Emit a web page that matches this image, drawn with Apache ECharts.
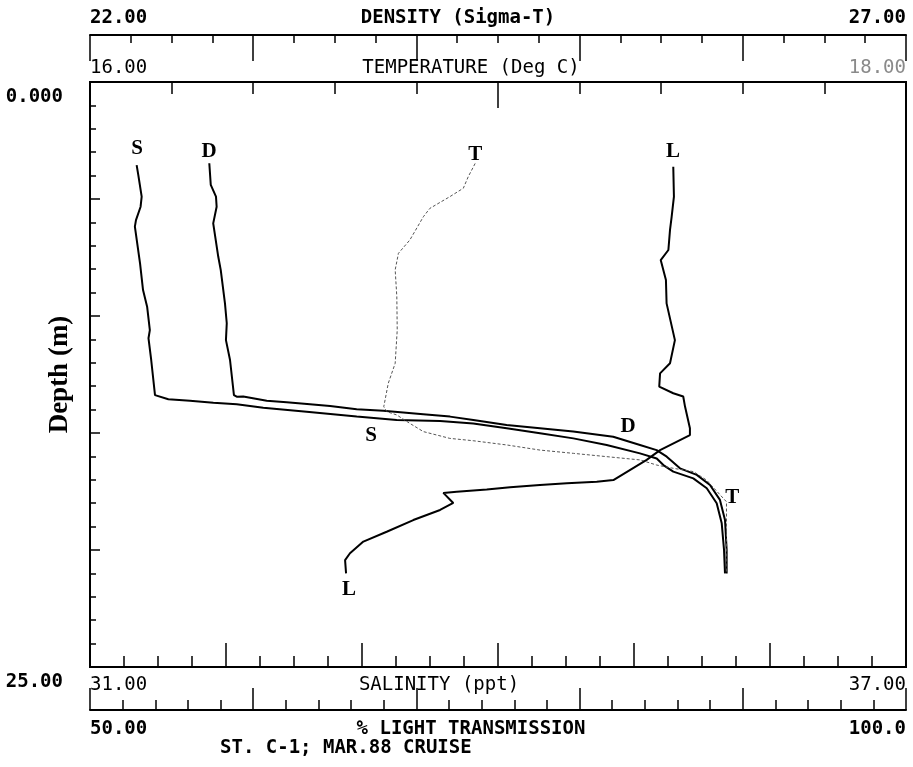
<!DOCTYPE html>
<html>
<head>
<meta charset="utf-8">
<script src="https://cdn.jsdelivr.net/npm/echarts@6/dist/echarts.min.js"></script>
<style>
html, body { margin: 0; padding: 0; background: #fff; }
#chart { width: 913px; height: 767px; }
</style>
</head>
<body>
<div id="chart"></div>
<script>
// salinity profile (ppt)
var salinityDepth = [3.55, 3.97, 4.90, 5.33, 5.90, 6.18, 7.75, 8.89, 9.60, 10.60, 10.95, 11.88, 13.38,
    13.45, 13.56, 13.62, 13.71, 13.77, 13.92, 14.09, 14.30, 14.44, 14.49, 14.59, 14.80, 15.01, 15.23,
    15.51, 15.87, 16.09, 16.37, 16.65, 16.94, 17.36, 18.00, 18.86, 20.00, 21.00];
var salinityValue = [31.343, 31.355, 31.380, 31.372, 31.338, 31.330, 31.368, 31.390, 31.420, 31.440, 31.430, 31.450, 31.478,
    31.478, 31.576, 31.735, 31.907, 32.079, 32.274, 32.593, 32.961, 33.255, 33.574, 33.818, 34.064, 34.309, 34.554,
    34.799, 35.044, 35.167, 35.216, 35.289, 35.436, 35.535, 35.608, 35.645, 35.662, 35.669];

// density profile (sigma-t)
var densityDepth = [3.47, 4.40, 4.90, 5.33, 6.04, 7.47, 8.03, 9.46, 10.31, 11.03, 11.88, 13.38,
    13.45, 13.44, 13.62, 13.69, 13.77, 13.85, 13.99, 14.05, 14.20, 14.30, 14.44, 14.66, 14.80, 14.94,
    15.16, 15.51, 15.73, 16.01, 16.51, 16.79, 17.22, 17.86, 18.72, 20.00, 21.00];
var densityValue = [22.731, 22.740, 22.772, 22.776, 22.755, 22.786, 22.801, 22.827, 22.838, 22.833, 22.858, 22.882,
    22.899, 22.939, 23.083, 23.205, 23.348, 23.471, 23.634, 23.797, 24.042, 24.206, 24.349, 24.553, 24.757, 24.961,
    25.206, 25.370, 25.472, 25.534, 25.615, 25.718, 25.799, 25.860, 25.891, 25.901, 25.901];

// temperature profile (deg C)
var temperatureDepth = [3.48, 4.05, 4.54, 4.90, 5.40, 5.76, 6.75, 7.32, 8.03, 9.17, 10.60, 12.02, 12.88, 13.88,
    14.09, 14.23, 14.59, 14.94, 15.23, 15.33, 15.51, 15.73, 15.87, 16.01, 16.15, 16.37, 16.51, 16.65,
    17.01, 17.94, 19.29, 20.71, 20.98];
var temperatureValue = [16.944, 16.927, 16.915, 16.882, 16.833, 16.817, 16.784, 16.756, 16.748, 16.752, 16.753, 16.748, 16.731, 16.720,
    16.728, 16.752, 16.784, 16.817, 16.882, 16.939, 17.021, 17.103, 17.185, 17.266, 17.348, 17.389, 17.430, 17.479,
    17.511, 17.560, 17.560, 17.561, 17.560];

// light transmission profile (%)
var lightDepth = [3.62, 4.90, 5.76, 6.32, 7.18, 7.61, 8.46, 9.46, 11.03, 12.02, 12.45, 13.02, 13.30, 13.44, 13.87,
    14.80, 15.09, 15.73, 16.15, 17.01, 17.08, 17.15, 17.22, 17.32, 17.41, 17.51, 17.56, 17.99, 18.29,
    18.72, 19.22, 19.64, 20.14, 20.43, 21.00];
var lightValue = [85.74, 85.78, 85.64, 85.54, 85.44, 84.97, 85.29, 85.33, 85.84, 85.54, 84.93, 84.88, 85.74, 86.35, 86.46,
    86.76, 86.76, 84.93, 84.11, 82.07, 81.05, 79.22, 77.57, 75.74, 74.31, 72.47, 71.65, 72.26, 71.45,
    69.81, 68.18, 66.75, 65.93, 65.63, 65.69];

// curve letters: [value, depth] at top and bottom of each profile
var salinityMarks = [[31.346, 2.86], [33.066, 15.13]];
var densityMarks = [[22.729, 2.99], [25.297, 14.74]];
var temperatureMarks = [[16.944, 3.12], [17.574, 17.74]];
var lightMarks = [[85.72, 2.99], [65.87, 21.71]];

// end labels of each scale
var densityLabels = ["22.00", "27.00"];
var temperatureLabels = ["16.00", "18.00"];
var salinityLabels = ["31.00", "37.00"];
var lightLabels = ["50.00", "100.0"];
var depthLabels = ["0.000", "25.00"];

var MONO = "DejaVu Sans Mono";
var SERIF = "Liberation Serif";

var pairs = function (values, depths) {
    var out = [];
    for (var i = 0; i < values.length; i++) {
        out.push([values[i], depths[i]]);
    }
    return out;
};

var end_formatter = function (min, max, labels, grayMax) {
    return function (v) {
        if (Math.abs(v - min) < 1e-9) return labels[0];
        if (Math.abs(v - max) < 1e-9) return grayMax ? "{gray|" + labels[1] + "}" : labels[1];
        return "";
    };
};

var make_x_axis = function (o) {
    return {
        type: "value",
        position: o.position,
        offset: o.offset,
        min: o.min,
        max: o.max,
        interval: o.interval,
        name: o.name,
        nameLocation: "middle",
        nameGap: o.margin,
        nameMoveOverlap: false,
        nameTextStyle: {
            fontFamily: MONO,
            fontSize: 19,
            fontWeight: o.bold ? "bold" : "normal",
            color: "#000",
            padding: [0, o.shift, 0, 0]
        },
        axisLine: { show: true, onZero: false, lineStyle: { color: "#000", width: 2 } },
        axisTick: { show: true, inside: true, length: o.major, lineStyle: { color: "#000", width: 1.5 } },
        minorTick: { show: true, splitNumber: o.split, length: o.minor, lineStyle: { color: "#000", width: 1.5 } },
        splitLine: { show: false },
        minorSplitLine: { show: false },
        axisLabel: {
            show: true,
            margin: o.margin,
            fontFamily: MONO,
            fontSize: 19,
            fontWeight: o.bold ? "bold" : "normal",
            color: "#000",
            alignMinLabel: "left",
            alignMaxLabel: "right",
            formatter: end_formatter(o.min, o.max, o.labels, o.grayMax),
            rich: {
                gray: { color: "#8a8a8a", fontFamily: MONO, fontSize: 19 }
            }
        }
    };
};

var mark_points = function (marks) {
    return {
        symbol: "circle",
        symbolSize: 1,
        itemStyle: { color: "rgba(0,0,0,0)" },
        label: {
            show: true,
            position: "inside",
            color: "#000",
            fontFamily: SERIF,
            fontWeight: "bold",
            fontSize: 21
        },
        data: marks.map(function (m) {
            return { coord: m, value: 0 };
        })
    };
};

var make_series = function (name, letter, axisIndex, values, depths, marks, style) {
    var mp = mark_points(marks);
    mp.label.formatter = letter;
    return {
        name: name,
        type: "line",
        xAxisIndex: axisIndex,
        yAxisIndex: 0,
        showSymbol: false,
        symbol: "none",
        silent: true,
        lineStyle: style,
        data: pairs(values, depths),
        markPoint: mp
    };
};

var load = function () {
    var chart = echarts.init(document.getElementById("chart"));
    var option = {
        animation: false,
        backgroundColor: "#fff",
        title: {
            text: "ST. C-1; MAR.88 CRUISE",
            left: 220,
            top: 739,
            padding: 0,
            textStyle: { fontFamily: MONO, fontSize: 19, fontWeight: "bold", color: "#000" }
        },
        grid: {
            left: 90, right: 7, top: 82, bottom: 100,
            containLabel: false,
            outerBoundsMode: "none",
            show: true, borderColor: "#000", borderWidth: 2, backgroundColor: "transparent"
        },
        xAxis: [
            make_x_axis({ position: "top", offset: 47, min: 22, max: 27, interval: 1, split: 4,
                major: 26, minor: 8, margin: 7, shift: 80, bold: true,
                name: "DENSITY (Sigma-T)", labels: densityLabels }),
            make_x_axis({ position: "top", offset: 0, min: 16, max: 18, interval: 1, split: 5,
                major: 26, minor: 12, margin: 4, shift: 54, bold: false, grayMax: true,
                name: "TEMPERATURE (Deg C)", labels: temperatureLabels }),
            make_x_axis({ position: "bottom", offset: 0, min: 31, max: 37, interval: 1, split: 4,
                major: 24, minor: 11, margin: 9, shift: 118, bold: false,
                name: "SALINITY (ppt)", labels: salinityLabels }),
            make_x_axis({ position: "bottom", offset: 43, min: 50, max: 100, interval: 10, split: 5,
                major: 22, minor: 10, margin: 10, shift: 54, bold: true,
                name: "% LIGHT TRANSMISSION", labels: lightLabels })
        ],
        yAxis: [{
            type: "value",
            inverse: true,
            min: 0,
            max: 25,
            interval: 5,
            name: "Depth (m)",
            nameLocation: "middle",
            nameRotate: 90,
            nameGap: 16,
            nameMoveOverlap: false,
            nameTextStyle: { fontFamily: SERIF, fontSize: 27, fontWeight: "bold", color: "#000" },
            axisLine: { show: true, lineStyle: { color: "#000", width: 2 } },
            axisTick: { show: true, inside: true, length: 10, lineStyle: { color: "#000", width: 1.5 } },
            minorTick: { show: true, splitNumber: 5, length: 6, lineStyle: { color: "#000", width: 1.5 } },
            splitLine: { show: false },
            axisLabel: {
                show: true,
                margin: 27,
                verticalAlign: "top",
                lineHeight: 30,
                fontFamily: MONO,
                fontSize: 19,
                fontWeight: "bold",
                color: "#000",
                formatter: end_formatter(0, 25, depthLabels)
            }
        }],
        series: [
            make_series("Salinity", "S", 2, salinityValue, salinityDepth, salinityMarks,
                { color: "#000", width: 2 }),
            make_series("Density", "D", 0, densityValue, densityDepth, densityMarks,
                { color: "#000", width: 2 }),
            make_series("Temperature", "T", 1, temperatureValue, temperatureDepth, temperatureMarks,
                { color: "#555", width: 1, type: [3, 2] }),
            make_series("Light", "L", 3, lightValue, lightDepth, lightMarks,
                { color: "#000", width: 2 })
        ]
    };
    chart.setOption(option);
};

window.addEventListener("load", load, false);
</script>
</body>
</html>
